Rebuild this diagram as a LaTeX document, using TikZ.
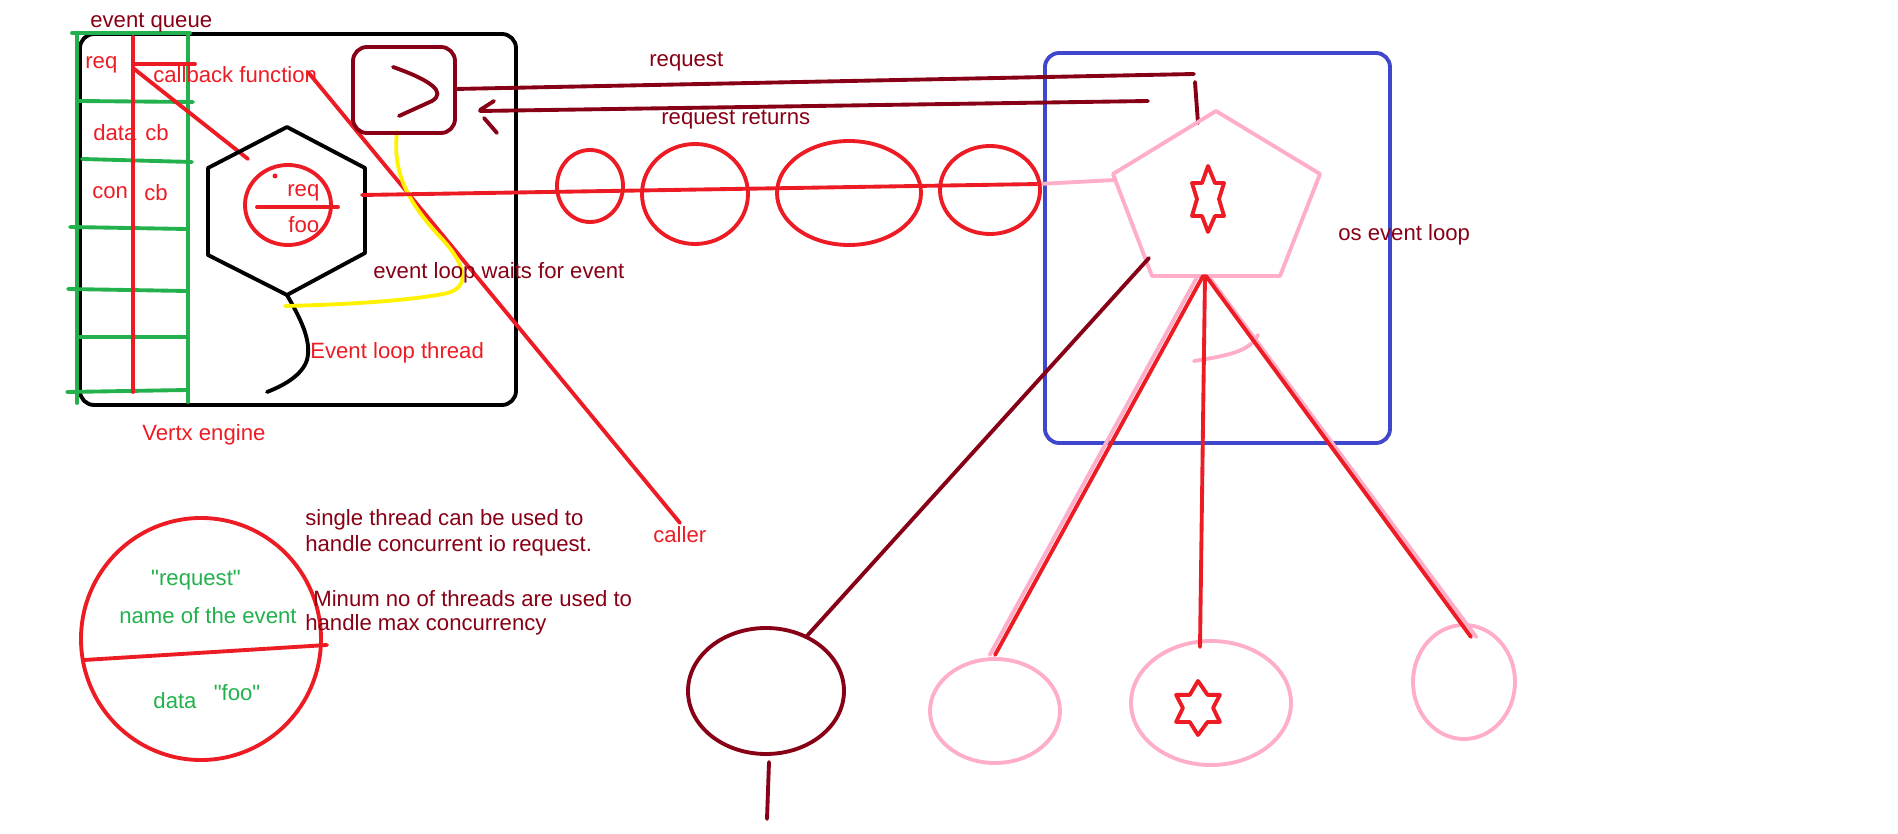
\documentclass[tikz,border=0pt]{standalone}
\usepackage{fontspec}
\setmainfont[Ligatures=TeXOff]{Liberation Sans}
\usetikzlibrary{arrows.meta}
\definecolor{pred}{RGB}{237,28,36}
\definecolor{maroon}{RGB}{136,0,21}
\definecolor{pgreen}{RGB}{34,177,76}
\definecolor{ppink}{RGB}{255,174,201}
\definecolor{pblue}{RGB}{63,72,204}
\definecolor{pyellow}{RGB}{255,242,0}
\tikzset{
	pen/.style={line width=2.2pt, line cap=round, line join=round},
	txt/.style={inner sep=0pt, anchor=west, yshift=-1.5pt, font=\fontsize{12.6}{15}\selectfont},
	sixstar/.pic={\draw[pen, pred] (0,-33)--(7,-16)--(16,-16)--(11,0)--(16,17)--(7,17)--(0,33)--(-6,17)--(-16,17)--(-11,0)--(-16,-16)--(-6,-16)--cycle;}
}
\begin{document}
\begin{tikzpicture}[x=0.02cm, y=-0.02cm]
	\fill[white] (0,0) rectangle (1898,834);
	\useasboundingbox (0,0) rectangle (1898,834);
	% vertx engine
	\draw[pen, black, rounded corners=8pt] (80,34) rectangle (516,405);
	\draw[pen, pgreen] (77,33)--(77,403);
	\draw[pen, pgreen] (188,35)--(188,402);
	\draw[pen, pgreen] (72,33)--(190,33);
	\draw[pen, pgreen] (78,101)--(193,102);
	\draw[pen, pgreen] (82,159)--(192,162);
	\draw[pen, pgreen] (70,227)--(187,229);
	\draw[pen, pgreen] (68,289)--(187,291);
	\draw[pen, pgreen] (80,337)--(187,337);
	\draw[pen, pgreen] (67,392)--(187,390);
	\draw[pen, pred] (133,37)--(133,392);
	\draw[pen, pred] (133,64)--(195,64);
	\draw[pen, pred] (133,68)--(248,159);
	\draw[pen, black] (287,127)--(365,168)--(365,253)--(287,295)--(208,255)--(208,168)--cycle;
	\draw[pen, pred] (288,205) ellipse [x radius=43, y radius=40];
	\draw[pen, pred] (257,207)--(338,207);
	\fill[pred] (275,176) circle (2.5);
	\draw[pen, black] (287,295) .. controls (300,318) and (312,340) .. (307,360) .. controls (302,375) and (285,385) .. (267,392);
	\draw[pen, pred] (308,72)--(680,523);
	\draw[pen, pyellow] (397,132) .. controls (392,175) and (410,205) .. (443,240) .. controls (470,270) and (468,290) .. (443,294) .. controls (400,302) and (330,305) .. (285,306);
	% request / return
	\draw[pen, pblue, rounded corners=8pt] (1045,53) rectangle (1390,443);
	\draw[pen, maroon, rounded corners=8pt] (353,47) rectangle (455,133);
	\draw[pen, maroon] (393,67) .. controls (430,80) and (447,92) .. (432,101) -- (399,116);
	\draw[pen, maroon] (455,89)--(1194,74);
	\draw[pen, maroon] (1195,82)--(1198,123);
	\draw[pen, maroon] (480,111)--(1148,101);
	\draw[pen, maroon] (480,110)--(494,101);
	\draw[pen, maroon] (484,118)--(497,133);
	% event line
	\draw[pen, pred] (362,195)--(1039,184);
	\draw[pen, ppink] (1039,184)--(1115,180);
	\draw[pen, pred] (590,186) ellipse [x radius=33, y radius=36];
	\draw[pen, pred] (695,194) ellipse [x radius=53, y radius=50];
	\draw[pen, pred] (849,193) ellipse [x radius=72, y radius=52];
	\draw[pen, pred] (990,190) ellipse [x radius=50, y radius=44];
	% os event loop
	\draw[pen, ppink] (1216,111)--(1320,174)--(1280,276)--(1152,276)--(1113,174)--cycle;
	\pic at (1208,199) {sixstar};
	\draw[pen, ppink] (1194,361) .. controls (1225,356) and (1250,352) .. (1258,335);
	\coordinate (pb) at (1203,276);
	\coordinate (pl) at (1149,258);
	\draw[pen, maroon] (766,691) ellipse [x radius=78, y radius=63];
	\draw[pen, ppink] (995,711) ellipse [x radius=65, y radius=52];
	\draw[pen, ppink] (1211,703) ellipse [x radius=80, y radius=62];
	\draw[pen, ppink] (1464,682) ellipse [x radius=51, y radius=57];
	\pic[xscale=1.37, yscale=0.82] at (1198,708) {sixstar};
	\coordinate (e1) at (806,637);
	\coordinate (e2) at (995,655);
	\coordinate (e3) at (1200,647);
	\coordinate (e4) at (1471,637);
	\draw[pen, maroon] (pl)--(e1);
	\draw[pen, maroon] (769,762)--(767,819);
	\draw[pen, ppink] ([xshift=-3]pb)--([xshift=-3]e2);
	\draw[pen, ppink] ([xshift=3]pb)--([xshift=3]e4);
	\draw[pen, pred] (pb)--(e2);
	\draw[pen, pred] (1205,276)--(e3);
	\draw[pen, pred] (1206,276)--(e4);
	% event object
	\draw[pen, pred] (201,639) ellipse [x radius=120, y radius=121];
	\draw[pen, pred] (84,660)--(327,645);
	% labels
	\node[txt, maroon] (evq) at (90,20) {event queue};
	\node[txt, pred] (reqq) at (85,62) {req};
	\node[txt, pred] (cbfn) at (153,72) {callback function};
	\node[txt, pred] (data) at (93,130) {data};
	\node[txt, pred] (cba) at (145,130) {cb};
	\node[txt, pred] (con) at (92,190) {con};
	\node[txt, pred] (cbb) at (144,190) {cb};
	\node[txt, pred] (reqc) at (287,190) {req};
	\node[txt, pred] (fooc) at (288,222) {foo};
	\node[txt, pred] (thread) at (310,350) {Event loop thread};
	\node[txt, maroon] (waits) at (373,270) {event loop waits for event};
	\node[txt, pred] (vertx) at (142,432) {Vertx engine};
	\node[txt, maroon] (req) at (649,59) {request};
	\node[txt, maroon] (ret) at (661,117) {request returns};
	\node[txt, maroon] (osloop) at (1338,232) {os event loop};
	\node[txt, pred] (caller) at (653,532) {caller};
	\node[txt, maroon] (single) at (305,517) {single thread can be used to};
	\node[txt, maroon] (single2) at (305,543) {handle concurrent io request.};
	\node[txt, maroon] (minum) at (313,596) {Minum no of threads are used to};
	\node[txt, maroon] (minum2) at (305,622) {handle max concurrency};
	\node[txt, pgreen, anchor=center] (evname) at (196,578) {"request"};
	\node[txt, pgreen] (evlabel) at (119,613) {name of the event};
	\node[txt, pgreen, anchor=center] (evdata) at (175,698) {data};
	\node[txt, pgreen, anchor=center] (evfoo) at (237,690) {"foo"};
\end{tikzpicture}
\end{document}
